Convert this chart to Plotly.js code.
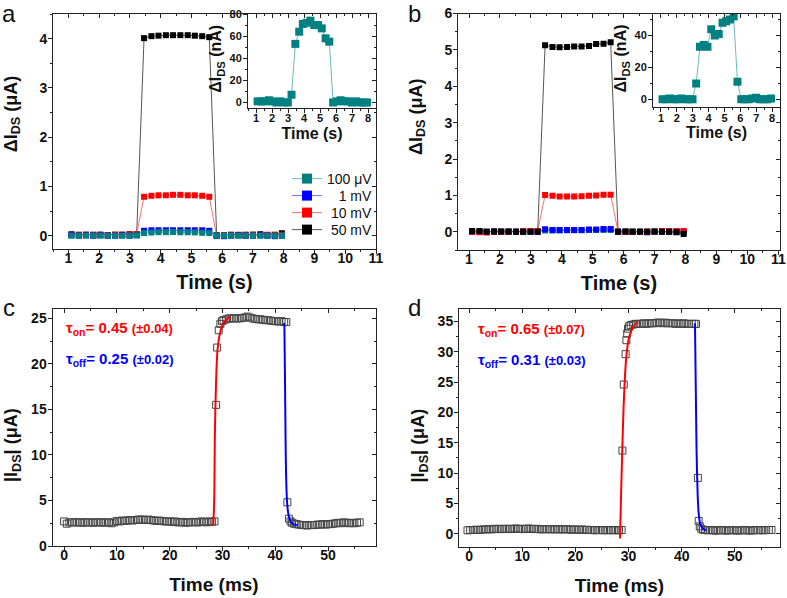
<!DOCTYPE html>
<html>
<head>
<meta charset="utf-8">
<script src="https://cdn.plot.ly/plotly-3.0.1.min.js"></script>
<style>html,body{margin:0;padding:0;background:#fff;}#chart{width:787px;height:598px;}</style>
</head>
<body>
<div id="chart"></div>
<script>
// ---------------- DATA ----------------
const ab_time = [1.10,1.34,1.57,1.81,2.04,2.28,2.52,2.75,2.99,3.22,3.46,3.70,3.93,4.17,4.40,4.64,4.88,5.11,5.35,5.58,5.82,6.06,6.29,6.53,6.76,7.00,7.24,7.47,7.71,7.94];
const seriesNames = ['100 \u03bcV','1 mV','10 mV','50 mV'];

// panel a (μA)
const a_50mV  = [0.03,0.02,0.02,0.02,0.02,0.01,0.02,0.02,0.03,0.03, 4.01,4.05,4.06,4.07,4.07,4.07,4.07,4.06,4.05,4.03, 0.01,0.01,0.02,0.01,0.02,0.02,0.03,0.01,0.02,0.05];
const a_10mV  = [0.02,0.01,0.02,0.01,0.02,0.01,0.02,0.02,0.03,0.03, 0.79,0.81,0.82,0.82,0.83,0.83,0.82,0.82,0.81,0.79, 0.00,0.01,0.01,0.02,0.01,0.02,0.01,0.02,0.01,0.02];
const a_1mV   = [0.01,0.00,0.01,0.00,0.01,0.00,0.00,0.01,0.00,0.01, 0.10,0.11,0.11,0.11,0.11,0.11,0.11,0.11,0.11,0.10, 0.00,-0.01,0.00,0.01,0.00,0.00,0.01,0.00,-0.01,0.00];
const a_100uV = [0.001,0.001,0.001,0.002,0.001,0.000,0.001,0.000,0.000,0.007, 0.053,0.064,0.071,0.072,0.074,0.070,0.070,0.067,0.058,0.055, 0.000,0.001,0.002,0.001,0.001,0.000,0.001,0.000,0.000,0.000];
const a_inset_nA = [1,1,1,2,1,0,1,0,0,7, 53,64,71,72,74,70,70,67,58,55, 0,1,2,1,1,0,1,0,0,0];

// panel b (μA)
const b_50mV  = [0.02,0.02,0.00,0.01,0.01,0.01,0.00,0.00,0.00,0.00, 5.13,5.08,5.07,5.08,5.09,5.09,5.11,5.16,5.17,5.21, 0.00,0.01,0.00,0.00,0.00,0.01,0.00,0.00,-0.01,-0.06];
const b_10mV  = [0.00,-0.01,-0.02,0.00,0.00,0.00,0.00,0.02,0.02,0.02, 1.01,0.99,0.97,0.97,0.97,0.98,0.99,1.00,1.02,1.02, 0.00,0.00,0.00,0.00,0.01,0.00,0.02,0.02,0.02,0.02];
const b_1mV   = [0.00,0.00,0.00,0.01,0.00,0.00,0.00,0.00,0.01,0.00, 0.07,0.05,0.05,0.05,0.05,0.05,0.06,0.06,0.08,0.08, 0.00,0.00,0.00,0.00,-0.01,0.00,0.00,0.00,0.00,0.00];
const b_100uV = [0.000,0.000,0.001,0.000,0.000,0.001,0.000,0.000,0.000,0.010, 0.033,0.034,0.033,0.044,0.040,0.041,0.048,0.049,0.050,0.052, 0.011,0.000,0.000,0.000,0.001,0.001,0.000,0.000,0.000,0.001];
const b_inset_nA = [0,0,0.5,0,0,0.5,0,0,0,10, 33,34,33,44,40,41,48,49,50,52, 11,0,0,0,0.5,1,0,0,0,0.5];

// panel c (ms, μA)
const c_t_pre = [0,0.5,1,1.5,2,2.5,3,3.5,4,4.5,5,5.5,6,6.5,7,7.5,8,8.5,9,9.5,10,10.5,11,11.5,12,12.5,13,13.5,14,14.5,15,15.5,16,16.5,17,17.5,18,18.5,19,19.5,20,20.5,21,21.5,22,22.5,23,23.5,24,24.5,25,25.5,26,26.5,27,27.5,28,28.5];
const c_i_pre = [2.70,2.45,2.60,2.60,2.60,2.60,2.60,2.55,2.60,2.60, 2.60,2.55,2.60,2.60,2.60,2.55,2.60,2.60,2.50,2.60, 2.75,2.70,2.80,2.75,2.80,2.85,2.80,2.85,2.90,2.90, 2.90,2.85,2.90,2.85,2.80,2.75,2.80,2.75,2.70,2.70, 2.70,2.65,2.70,2.60,2.60,2.65,2.55,2.60,2.60,2.65, 2.60,2.60,2.70,2.65,2.60,2.70,2.65,2.70];
const c_t_on = [28.8,29.0,29.3,29.6,29.9,30.2,30.7,31.2,31.7,32.2,32.7,33.2,33.7,34.2,34.7,35.2,35.7,36.2,36.7,37.2,37.7,38.2,38.7,39.2,39.7,40.2,40.7,41.2,41.7,42.1];
const c_i_on = [15.5,21.8,23.7,24.4,24.7,24.8,24.9,25.0,25.0,25.0,25.0,25.0,25.05,25.1,25.2,25.1,25.0,24.95,24.9,24.9,24.85,24.8,24.8,24.75,24.7,24.7,24.65,24.7,24.6,24.6];
const c_t_post = [42.3,42.6,42.9,43.2,43.6,44.0,44.5,45.0,45.5,46.0,46.5,47.0,47.5,48.0,48.5,49.0,49.5,50.0,50.5,51.0,51.5,52.0,52.5,53.0,53.5,54.0,54.5,55.0,55.5,56.0];
const c_i_post = [4.8,3.0,2.7,2.55,2.45,2.4,2.35,2.3,2.3,2.25,2.3,2.3,2.3,2.35,2.35,2.4,2.35,2.4,2.4,2.45,2.5,2.55,2.5,2.6,2.55,2.5,2.55,2.5,2.55,2.6];
const c_fitOn_t  = [28.26,28.45,28.51,28.57,28.7,28.89,29.08,29.4,29.9,30.6,31.5];
const c_fitOn_i  = [2.3,5.1,8.7,12.4,16.1,19.7,21.6,23.0,24.1,24.8,25.2];
const c_fitOff_t = [41.73,41.86,41.98,42.11,42.3,42.56,42.94,43.57,44.2];
const c_fitOff_i = [24.5,17.9,10.6,6.6,4.4,3.3,2.65,2.35,2.3];

// panel d (ms, μA)
const d_t_pre = [-0.3,0.2,0.7,1.2,1.7,2.2,2.7,3.2,3.7,4.2,4.7,5.2,5.7,6.2,6.7,7.2,7.7,8.2,8.7,9.2,9.7,10.2,10.7,11.2,11.7,12.2,12.7,13.2,13.7,14.2,14.7,15.2,15.7,16.2,16.7,17.2,17.7,18.2,18.7,19.2,19.7,20.2,20.7,21.2,21.7,22.2,22.7,23.2,23.7,24.2,24.7,25.2,25.7,26.2,26.7,27.2,27.7,28.2,28.7];
const d_i_pre = [0.55,0.60,0.60,0.65,0.60,0.65,0.70,0.70,0.75,0.70, 0.80,0.75,0.80,0.75,0.80,0.80,0.75,0.80,0.85,0.80, 0.80,0.75,0.80,0.85,0.80,0.75,0.80,0.75,0.70,0.75, 0.75,0.70,0.75,0.70,0.75,0.70,0.70,0.75,0.70,0.65, 0.70,0.65,0.65,0.70,0.60,0.65,0.60,0.60,0.55,0.60, 0.60,0.55,0.60,0.55,0.60,0.55,0.60,0.55,0.60];
const d_t_on = [28.85,29.1,29.45,29.6,29.75,29.9,30.1,30.4,30.9,31.4,31.9,32.4,32.9,33.4,33.9,34.4,34.9,35.4,35.9,36.4,36.9,37.4,37.9,38.4,38.9,39.4,39.9,40.4,40.9,41.4,41.9,42.4,42.7];
const d_i_on = [13.7,24.6,29.6,31.9,33.0,33.8,34.2,34.4,34.5,34.6,34.6,34.6,34.7,34.6,34.7,34.7,34.7,34.8,34.8,34.7,34.8,34.7,34.7,34.7,34.6,34.7,34.6,34.7,34.6,34.6,34.6,34.6,34.6];
const d_t_post = [43.05,43.2,43.4,43.7,44.0,44.4,44.9,45.4,45.9,46.4,46.9,47.4,47.9,48.4,48.9,49.4,49.9,50.4,50.9,51.4,51.9,52.4,52.9,53.4,53.9,54.4,54.9,55.4,55.9,56.4,56.9];
const d_i_post = [9.2,2.1,1.2,0.8,0.65,0.6,0.55,0.6,0.55,0.5,0.55,0.6,0.55,0.5,0.55,0.6,0.55,0.5,0.55,0.55,0.6,0.55,0.5,0.55,0.6,0.55,0.6,0.55,0.6,0.6,0.6];
const d_fitOn_t  = [28.4,28.57,28.82,29.07,29.32,29.6,30.1,30.9,31.8];
const d_fitOn_i  = [-0.8,5.5,13.7,20.9,25.8,29.4,32.4,34.1,35.0];
const d_fitOff_t = [42.5,42.8,43.0,43.2,43.5,44.0,44.6];
const d_fitOff_i = [34.7,13.7,6.6,3.3,1.6,0.8,0.55];

// ---------------- STYLE / LAYOUT ----------------
const F = 'Liberation Sans, Arial, sans-serif';
const W = 787, H = 598;
const px = v => v / W;
const py = v => 1 - v / H;
const COL = {teal:'#008080', tealL:'#6fb9b9', blue:'#0000ff', blueL:'#7070ff', red:'#ff0000', redL:'#ff7070', black:'#000000', blackL:'#555555'};
const INK = '#222';
// padding (guarded by zero-width spaces so it is not trimmed) to shift a rotated title along its axis
const padL = n => '\u200b' + '\u00a0'.repeat(n);
const padR = n => '\u00a0'.repeat(n) + '\u200b';

const P = {
  a:  {L:53,  R:376, T:14,    B:249,   xr:[0.5,11],      yr:[-0.27,4.5]},
  ai: {L:248, R:376, T:14,    B:108,   xr:[0.5,8.5],     yr:[-5,80]},
  b:  {L:458, R:780, T:13.5,  B:250,   xr:[0.644,11.055],yr:[-0.5,6.0]},
  bi: {L:653, R:780, T:14,    B:107.3, xr:[0.5,8.5],     yr:[-5,53.5]},
  c:  {L:52.5,R:375.5,T:309.3,B:546,   xr:[-2.2,59.0],   yr:[0,26]},
  d:  {L:459, R:780, T:309.3, B:547,   xr:[-1.9,58.5],   yr:[-2.2,37]}
};

function mainAxis(domain, range, anchor, dtick, mdtick, fs, title, lblOff) {
  return {
    domain, range, anchor, showgrid:false, zeroline:false, showline:true, linecolor:INK, linewidth:1, mirror:true,
    ticks:'outside', ticklen:4, tickwidth:1, tickcolor:INK, tick0:0, dtick,
    minor:{ticks:'outside', ticklen:2, tickwidth:1, tickcolor:INK, tick0:0, dtick:mdtick},
    tickfont:{family:F, size:fs, color:'#111', weight:'bold'}, ticklabelstandoff:lblOff,
    title: title, fixedrange:true
  };
}
function T(text, size, standoff) {
  return {text, font:{family:F, size, color:'#111', weight:'bold'}, standoff};
}

const layout = {
  width:W, height:H, margin:{l:0,r:0,t:0,b:0}, paper_bgcolor:'#fff', plot_bgcolor:'rgba(0,0,0,0)',
  showlegend:true, annotations:[], shapes:[]
};

// main / inset axes
layout.xaxis  = mainAxis([px(P.a.L),px(P.a.R)], P.a.xr, 'y', 1, 0.5, 14, T('Time (s)',20,10), -8);
layout.yaxis  = mainAxis([py(P.a.B),py(P.a.T)], P.a.yr, 'x', 1, 0.5, 14, T(padL(7)+'\u0394I<sub>DS</sub> (\u03bcA)',18,17), -2);
layout.xaxis2 = mainAxis([px(P.ai.L),px(P.ai.R)], P.ai.xr, 'y2', 1, 0.5, 11, T('Time (s)',16,4), -4);
layout.yaxis2 = mainAxis([py(P.ai.B),py(P.ai.T)], P.ai.yr, 'x2', 20, 10, 11, T(padL(1)+'\u0394I<sub>DS</sub> (nA)',16,3), -1);
layout.xaxis3 = mainAxis([px(P.b.L),px(P.b.R)], P.b.xr, 'y3', 1, 0.5, 14, T('Time (s)',20,10), -8);
layout.yaxis3 = mainAxis([py(P.b.B),py(P.b.T)], P.b.yr, 'x3', 1, 0.5, 14, T(padL(6)+'\u0394I<sub>DS</sub> (\u03bcA)',18,17), -2);
layout.xaxis4 = mainAxis([px(P.bi.L),px(P.bi.R)], P.bi.xr, 'y4', 1, 0.5, 11, T('Time (s)',16,4), -4);
layout.yaxis4 = mainAxis([py(P.bi.B),py(P.bi.T)], P.bi.yr, 'x4', 20, 10, 11, T(padL(1)+'\u0394I<sub>DS</sub> (nA)',16,3), -1);
layout.xaxis5 = mainAxis([px(P.c.L),px(P.c.R)], P.c.xr, 'y5', 10, 5, 14, T('Time (ms)',19,15), -8);
layout.yaxis5 = mainAxis([py(P.c.B),py(P.c.T)], P.c.yr, 'x5', 5, 2.5, 14, T('|I<sub>DS</sub>| (\u03bcA)'+padR(7),18,8), -2);
layout.xaxis6 = mainAxis([px(P.d.L),px(P.d.R)], P.d.xr, 'y6', 10, 5, 14, T('Time (ms)',19,15), -8);
layout.yaxis6 = mainAxis([py(P.d.B),py(P.d.T)], P.d.yr, 'x6', 5, 2.5, 14, T('|I<sub>DS</sub>| (\u03bcA)'+padR(7),18,8), -2);

const traces = [];
let mid = 7;
function tickOnly(dtick, mdtick) {
  return {showline:false, showgrid:false, zeroline:false, showticklabels:false, ticks:'inside', ticklen:4, tickwidth:1, tickcolor:INK,
          tick0:0, dtick, minor:{ticks:'inside', ticklen:2, tickwidth:1, tickcolor:INK, tick0:0, dtick:mdtick}, fixedrange:true};
}
function mirrorTop(p, yName, stopR, dtick, mdtick) {
  const R2 = (stopR === undefined) ? p.R : stopR;
  const r1 = p.xr[0] + (R2 - p.L) / (p.R - p.L) * (p.xr[1] - p.xr[0]);
  const id = mid++;
  layout['xaxis' + id] = Object.assign({domain:[px(p.L), px(R2)], range:[p.xr[0], r1], anchor:yName, side:'top'}, tickOnly(dtick, mdtick));
  traces.push({type:'scatter', mode:'markers', x:[null], y:[null], xaxis:'x' + id, yaxis:yName, showlegend:false, hoverinfo:'skip'});
}
function mirrorRight(p, xName, stopT, dtick, mdtick) {
  const T2 = (stopT === undefined) ? p.T : stopT;
  const r1 = p.yr[0] + (p.B - T2) / (p.B - p.T) * (p.yr[1] - p.yr[0]);
  const id = mid++;
  layout['yaxis' + id] = Object.assign({domain:[py(p.B), py(T2)], range:[p.yr[0], r1], anchor:xName, side:'right'}, tickOnly(dtick, mdtick));
  traces.push({type:'scatter', mode:'markers', x:[null], y:[null], xaxis:xName, yaxis:'y' + id, showlegend:false, hoverinfo:'skip'});
}

function ser(x, y, xa, ya, mc, lc, size) {
  return {type:'scatter', mode:'lines+markers', x, y, xaxis:xa, yaxis:ya, showlegend:false, hoverinfo:'skip',
          line:{color:lc, width:1}, marker:{symbol:'square', size, color:mc, line:{width:0}}};
}

// panel a (teal on top)
traces.push(ser(ab_time, a_50mV,  'x','y', COL.black, COL.blackL, 6));
traces.push(ser(ab_time, a_10mV,  'x','y', COL.red,   COL.redL,   6));
traces.push(ser(ab_time, a_1mV,   'x','y', COL.blue,  COL.blueL,  6));
traces.push(ser(ab_time, a_100uV, 'x','y', COL.teal,  COL.tealL,  6));
traces.push(ser(ab_time, a_inset_nA, 'x2','y2', COL.teal, COL.tealL, 8));

// legend entries (panel a): one small legend per row
const legCols = [[COL.teal,COL.tealL],[COL.blue,COL.blueL],[COL.red,COL.redL],[COL.black,COL.blackL]];
const legPad = ['', '\u00a0\u00a0\u00a0', '\u00a0', '\u00a0'];
const legRowY = [179, 196, 213, 230];
seriesNames.forEach((n,i) => {
  const lname = i === 0 ? 'legend' : 'legend' + (i + 1);
  layout[lname] = {x:px(287), y:py(legRowY[i]), xanchor:'left', yanchor:'middle', bgcolor:'rgba(0,0,0,0)', borderwidth:0,
                   font:{family:F, size:14, color:'#111'}, itemwidth:30};
  traces.push({type:'scatter', mode:'lines+markers', x:[null], y:[null], xaxis:'x', yaxis:'y', name:legPad[i]+n, legend:lname,
               hoverinfo:'skip', line:{color:legCols[i][1], width:1}, marker:{symbol:'square', size:10, color:legCols[i][0]}});
});

// panel b (black on top)
traces.push(ser(ab_time, b_100uV, 'x3','y3', COL.teal,  COL.tealL,  6));
traces.push(ser(ab_time, b_1mV,   'x3','y3', COL.blue,  COL.blueL,  6));
traces.push(ser(ab_time, b_10mV,  'x3','y3', COL.red,   COL.redL,   6));
traces.push(ser(ab_time, b_50mV,  'x3','y3', COL.black, COL.blackL, 6));
traces.push(ser(ab_time, b_inset_nA, 'x4','y4', COL.teal, COL.tealL, 8));

// panels c, d
function openSq(x, y, xa, ya) {
  return {type:'scatter', mode:'markers', x, y, xaxis:xa, yaxis:ya, showlegend:false, hoverinfo:'skip',
          marker:{symbol:'square-open', size:7, color:'#444444', line:{width:1}}};
}
function fit(x, y, xa, ya, c) {
  return {type:'scatter', mode:'lines', x, y, xaxis:xa, yaxis:ya, showlegend:false, hoverinfo:'skip',
          line:{color:c, width:2, shape:'spline', smoothing:0.6}};
}
traces.push(openSq([...c_t_pre, ...c_t_on, ...c_t_post], [...c_i_pre, ...c_i_on, ...c_i_post], 'x5','y5'));
traces.push(fit(c_fitOn_t, c_fitOn_i, 'x5','y5', COL.red));
traces.push(fit(c_fitOff_t, c_fitOff_i, 'x5','y5', COL.blue));
traces.push(openSq([...d_t_pre, ...d_t_on, ...d_t_post], [...d_i_pre, ...d_i_on, ...d_i_post], 'x6','y6'));
traces.push(fit(d_fitOn_t, d_fitOn_i, 'x6','y6', COL.red));
traces.push(fit(d_fitOff_t, d_fitOff_i, 'x6','y6', COL.blue));

// inside mirror ticks (top / right)
mirrorTop(P.a, 'y', P.ai.L, 1, 0.5);
mirrorRight(P.a, 'x', P.ai.B, 1, 0.5);
mirrorTop(P.ai, 'y2', undefined, 1, 0.5);
mirrorRight(P.ai, 'x2', undefined, 20, 10);
mirrorTop(P.b, 'y3', P.bi.L, 1, 0.5);
mirrorRight(P.b, 'x3', P.bi.B, 1, 0.5);
mirrorTop(P.bi, 'y4', undefined, 1, 0.5);
mirrorRight(P.bi, 'x4', undefined, 20, 10);
mirrorTop(P.c, 'y5', undefined, 10, 5);
mirrorRight(P.c, 'x5', undefined, 5, 2.5);
mirrorTop(P.d, 'y6', undefined, 10, 5);
mirrorRight(P.d, 'x6', undefined, 5, 2.5);

// panel letters
[['a',8.5,14],['b',414,14],['c',8.5,307],['d',414,307]].forEach(([t,x,y]) => {
  layout.annotations.push({text:t, xref:'paper', yref:'paper', x:px(x), y:py(y), xanchor:'center', yanchor:'middle',
    showarrow:false, font:{family:F, size:24, color:'#111'}});
});
// time-constant labels
function tau(sub, val, err, color, x, y) {
  layout.annotations.push({text:'\u03c4<sub>'+sub+'</sub>= '+val+' <span style="font-size:13px">(\u00b1'+err+')</span>',
    xref:'paper', yref:'paper', x:px(x), y:py(y), xanchor:'left', yanchor:'middle', showarrow:false,
    font:{family:F, size:15, color, weight:'bold'}});
}
tau('on','0.45','0.04',COL.red,64,328);
tau('off','0.25','0.02',COL.blue,64,359);
tau('on','0.65','0.07',COL.red,476,329);
tau('off','0.31','0.03',COL.blue,476,360);

Plotly.newPlot('chart', traces, layout, {displayModeBar:false, staticPlot:true});
</script>
</body>
</html>
